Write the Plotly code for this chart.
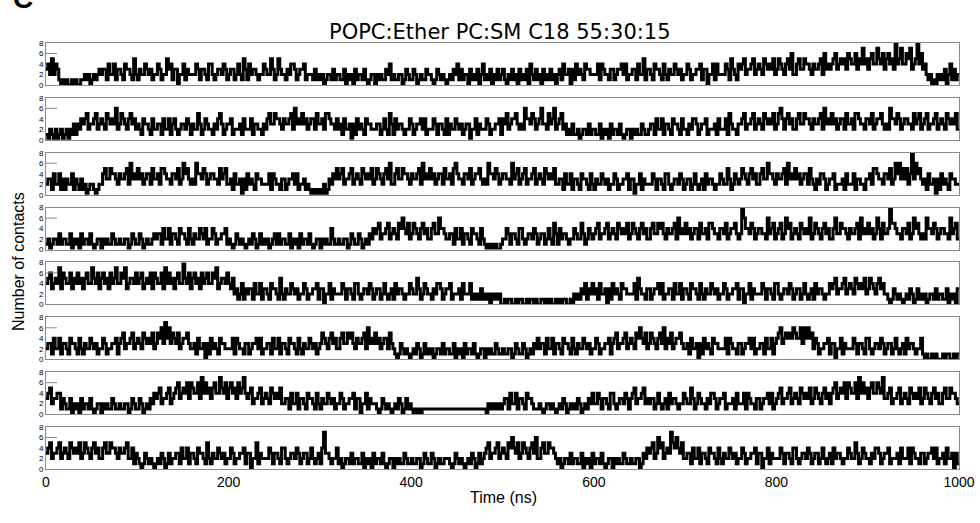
import plotly.graph_objects as go

# Number of contacts, one digit per 2 ns (each quoted chunk = 20 ns)
panel1 = ("3425243101" "0100101001" "1212012123" "2331422413" "3214332152"
          "1322432312" "2431225341" "3302241322" "2243133214" "4212332431"
          "2331242153" "1423321224" "3225312532" "2132443123" "3412221312"
          "1201221312" "2113021203" "1221310122" "0212113241" "2112201321"
          "1320121132" "2101321210" "1213241312" "2031213024" "1213021312"
          "3102131203" "1213042131" "2031213120" "2314223031" "4232143322"
          "2241432213" "3123342412" "2331422513" "3214332142" "1322432312"
          "2431223341" "3302241422" "2243153214" "3452334523" "4325434352"
          "3543245362" "2453354432" "4334526343" "4563454536" "5446354745"
          "3564475463" "5645384574" "4657345846" "3421201021" "2130241312")
panel2 = ("1021020120" "1202131324" "3452334523" "4325434362" "3543245342"
          "3214332142" "2331422413" "4212332431" "3225312432" "2132453123"
          "3412223142" "2241332213" "2453354432" "4334526343" "5342344253"
          "3425543324" "2314223031" "4232143322" "2331242153" "1423321224"
          "3123342412" "2243133214" "1322432312" "3302241322" "2431223341"
          "4352344532" "3264435423" "4633253462" "3452312131" "1201221312"
          "2113021203" "1221310122" "0212113211" "2331422413" "3214332142"
          "2132443123" "3412223142" "2241532213" "3452334523" "4325434352"
          "3564245342" "2453354432" "4334526343" "5342344253" "3425543324"
          "4352344532" "3264435423" "4433253452" "3452334523" "4325434352")
panel3 = ("2331422413" "1322413213" "1201221012" "2453354432" "4334526343"
          "5342344253" "3425543324" "4352364532" "3264435423" "4433253452"
          "2314223031" "4232143322" "2241432213" "3123342412" "2312101010"
          "1020132435" "3452334523" "4325434352" "3543245362" "2453354432"
          "4334526343" "5342344253" "3425643324" "4352344532" "3264435423"
          "4433263452" "3452334523" "4325434352" "2331422413" "3214332142"
          "1322432312" "2431223341" "3302241322" "2243133214" "4212332431"
          "2331242123" "1423321224" "3225312432" "3543245342" "2453364432"
          "4334526343" "5342344253" "2132443123" "3412223142" "2241332213"
          "3425543324" "4352364635" "3524836453" "2314223031" "4232143322")
panel4 = ("1201221312" "2113021203" "1221310122" "0212113211" "2112201321"
          "1320121123" "2331422413" "3214332142" "1322432412" "2431223341"
          "2101321210" "1213201312" "1201231312" "2113021203" "1221310122"
          "0212114211" "2112201321" "1320121324" "3452334523" "4325464352"
          "3543245342" "2453364432" "2331422413" "3214332142" "1010101001"
          "2243133214" "4212332431" "2331242153" "1423321224" "3225312432"
          "3452334523" "4325434352" "3543245342" "2453354532" "4334526343"
          "5342344253" "3425543324" "4352344532" "3864435423" "4433263452"
          "3452364523" "4325434362" "3543245342" "2463354432" "4334526343"
          "5342364253" "3485543324" "4352364532" "3264435423" "4433263452")
panel5 = ("4563454736" "5446354645" "3564475463" "5645364574" "4657345546"
          "4563454636" "5446374645" "3564485463" "5645364564" "4657345546"
          "4352312413" "2331422413" "3214332152" "1322432312" "2431223341"
          "3302241322" "2243133214" "4212332431" "2331242123" "1423321224"
          "3225312432" "2132443123" "3412223142" "2241212131" "2120212120"
          "0101100101" "1001011010" "0110101001" "0101100102" "1213241324"
          "2314223031" "4232143322" "2241532213" "3123342412" "2331422413"
          "3214332142" "1322432312" "2431223341" "3302241322" "2243133214"
          "4212332431" "2331242123" "1423321224" "3452334523" "4325434352"
          "3543245342" "2101321210" "1213201312" "1201221312" "2113021203")
panel6 = ("2331422413" "3214332142" "1322432312" "2431223341" "3452334523"
          "4325434352" "3546374635" "4352344532" "2314223031" "4232143322"
          "2241432213" "3123342412" "2331422413" "3214332142" "1322432312"
          "3543245342" "2453354532" "4334526343" "5342344253" "2101321210"
          "1213201312" "1201221312" "2113021203" "1221310122" "0212113211"
          "2112201321" "1320121324" "2331422413" "3214332142" "1322432312"
          "2431223341" "3452334523" "4325464352" "3543245362" "4352344532"
          "2314223031" "4232143322" "2241432213" "3123342412" "2331422413"
          "4563454546" "5446364645" "2431223341" "3302241322" "2243133214"
          "4212332431" "2331242123" "1423321224" "1010010100" "0101100101")
panel7 = ("3452334413" "2113021203" "1221310122" "0212113211" "2112201321"
          "1320121324" "3452334523" "4563454636" "5446374645" "3564475463"
          "5645364574" "3452334523" "4325434352" "2331422413" "3214332142"
          "1322432312" "2431223341" "3302241322" "2101321210" "1213201312"
          "1010101111" "1111111111" "1111111111" "1111111111" "1021212121"
          "2331422413" "3214332111" "2101221210" "1213201212" "1320121324"
          "2243133214" "4212332431" "3452334523" "2331242123" "1423321224"
          "3225312432" "2132443123" "3412223142" "2241432213" "3123342412"
          "3452334523" "4325434352" "3543245342" "4563454636" "5446374645"
          "3564465473" "3452334523" "4325434352" "3543245342" "2453354432")
panel8 = ("3452334523" "4325434352" "3543245342" "2453354432" "4334522413"
          "2101321210" "1213201312" "2331422413" "3214332152" "1322432312"
          "2431223341" "3302251322" "2243133214" "4212332431" "2331242123"
          "1473321224" "1201221312" "2113021203" "1221310122" "0212113211"
          "2112201321" "1320121122" "2101321210" "1213201312" "3452334523"
          "4325464352" "3543245362" "2453354432" "1201221312" "2113021203"
          "1221310122" "0212113211" "2112201324" "3452364523" "4375464352"
          "2331422413" "3214332142" "1322432312" "2431223341" "3302241322"
          "2243133214" "4212332431" "2331242123" "1423321224" "3225312432"
          "2132443123" "3412223142" "2241432213" "3123342412" "2314223031")

panels = [panel1, panel2, panel3, panel4, panel5, panel6, panel7, panel8]
time_step_ns = 2
x_ticks = [0, 200, 400, 600, 800, 1000]
y_ticks = [0, 2, 4, 6, 8]
title_text = "POPC:Ether PC:SM C18 55:30:15"

W, H = 980, 523
left_px, right_px = 46, 959
top0, pitch, ph = 43, 54.86, 42

fig = go.Figure()
layout = {}
shapes = []
for i, s in enumerate(panels):
    vals = [int(c) for c in s]
    vals.append(vals[-1])
    xs = [k * time_step_ns for k in range(len(vals))]
    ax = "" if i == 0 else str(i + 1)
    fig.add_trace(go.Scatter(
        x=xs, y=vals, mode="lines",
        line=dict(color="black", width=3, shape="hv"),
        xaxis="x" + ax, yaxis="y" + ax, showlegend=False, hoverinfo="skip"))
    top = top0 + pitch * i
    bot = top + ph
    layout["yaxis" + ax] = dict(
        domain=[1 - bot / H, 1 - top / H], range=[0, 8], tickvals=y_ticks,
        anchor="x" + ax, showline=True, linecolor="#8a8a8a", linewidth=1,
        mirror=True, showgrid=False, zeroline=False, ticks="", automargin=False,
        tickfont=dict(size=8, family="Liberation Sans", color="black"))
    xa = dict(
        domain=[left_px / W, right_px / W], range=[0, 1000], anchor="y" + ax,
        showline=True, linecolor="#8a8a8a", linewidth=1, mirror=True,
        showgrid=False, zeroline=False, ticks="", tickvals=x_ticks, automargin=False,
        showticklabels=(i == len(panels) - 1),
        tickfont=dict(size=14, family="Liberation Sans", color="black"))
    layout["xaxis" + ax] = xa
    shapes.append(dict(type="line", xref=("x" + ax) + " domain", yref="y" + ax,
                       x0=0, x1=0.012, y0=6, y1=6,
                       line=dict(color="#8a8a8a", width=1)))

fig.update_layout(**layout)
fig.update_layout(
    width=W, height=H, margin=dict(l=0, r=0, t=0, b=0),
    paper_bgcolor="white", plot_bgcolor="white",
    shapes=shapes,
    annotations=[
        dict(text=title_text, x=0.51, y=1 - 18 / H, xref="paper", yref="paper",
             xanchor="center", showarrow=False,
             font=dict(size=21, family="DejaVu Sans", color="black")),
        dict(text="Time (ns)", x=503 / W, y=1 - 508 / H, xref="paper", yref="paper",
             xanchor="center", showarrow=False,
             font=dict(size=16, family="Liberation Sans", color="black")),
        dict(text="Number of contacts", x=18 / W, y=1 - 262 / H, xref="paper", yref="paper",
             xanchor="center", yanchor="middle", showarrow=False, textangle=-90,
             font=dict(size=16, family="Liberation Sans", color="black")),
        dict(text="<b>C</b>", x=11 / W, y=1 + 2 / H, xref="paper", yref="paper",
             xanchor="left", yanchor="middle", showarrow=False,
             font=dict(size=28, family="Liberation Sans", color="black")),
    ],
)
fig.write_html("out.html")
